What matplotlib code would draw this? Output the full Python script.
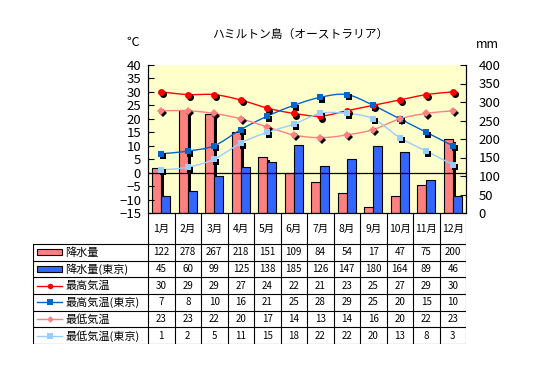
import numpy as np
import matplotlib
matplotlib.use("Agg")
import matplotlib.pyplot as plt
import matplotlib.transforms as mtransforms
from matplotlib.patches import Rectangle

plt.rcParams['font.family'] = ['Noto Sans CJK JP', 'DejaVu Sans']

months = ['1月', '2月', '3月', '4月', '5月', '6月', '7月', '8月', '9月', '10月', '11月', '12月']
precip = [122, 278, 267, 218, 151, 109, 84, 54, 17, 47, 75, 200]
precip_tokyo = [45, 60, 99, 125, 138, 185, 126, 147, 180, 164, 89, 46]
tmax = [30, 29, 29, 27, 24, 22, 21, 23, 25, 27, 29, 30]
tmax_tokyo = [7, 8, 10, 16, 21, 25, 28, 29, 25, 20, 15, 10]
tmin = [23, 23, 22, 20, 17, 14, 13, 14, 16, 20, 22, 23]
tmin_tokyo = [1, 2, 5, 11, 15, 18, 22, 22, 20, 13, 8, 3]

title = 'ハミルトン島（オーストラリア）'
labels = ['降水量', '降水量(東京)', '最高気温', '最高気温(東京)', '最低気温', '最低気温(東京)']

C_PINK_BAR = '#FF8080'
C_BLUE_BAR = '#3366FF'
C_RED = '#FF0000'
C_DBLUE = '#0066CC'
C_PINK = '#FF8080'
C_LBLUE = '#99CCFF'

W, H = 535, 366
fig = plt.figure(figsize=(W / 100, H / 100), dpi=100)
fig.patch.set_facecolor('white')

L, R, T, B = 148, 466, 65, 213
ax = fig.add_axes([L / W, 1 - B / H, (R - L) / W, (B - T) / H])
ax2 = ax.twinx()

ax.set_facecolor('#FFFFCC')
ax.set_xlim(0, 12)
ax.set_ylim(0, 400)
ax2.set_ylim(-15, 40)

x = np.arange(12) + 0.5
bw = 0.34

shadow = ax.transData + mtransforms.ScaledTranslation(3 / 100, -3 / 100, fig.dpi_scale_trans)
ax.bar(x - bw / 2, precip, bw, color='black', transform=shadow, zorder=1)
ax.bar(x - bw / 2, precip, bw, color=C_PINK_BAR, edgecolor='black', linewidth=0.8, zorder=2)
ax.bar(x + bw / 2, precip_tokyo, bw, color=C_BLUE_BAR, edgecolor='black', linewidth=0.8, zorder=3)

ax.yaxis.tick_right()
ax.set_yticks(np.arange(0, 401, 50))
ax.tick_params(axis='y', direction='in', length=4, pad=9, labelsize=9.5, width=0.8)
ax.set_xticks([])
ax.spines['top'].set_visible(False)
ax2.spines['top'].set_visible(False)
for a in (ax, ax2):
    for s in a.spines.values():
        s.set_linewidth(0.8)

ax2.yaxis.tick_left()
ax2.set_yticks(np.arange(-15, 41, 5))
ax2.tick_params(axis='y', direction='in', length=4, pad=5, labelsize=9.5, width=0.8)
ax2.axhline(0, color='black', lw=0.9, zorder=1)


def catmull(xs, ys, n=16):
    xs = np.asarray(xs, float)
    ys = np.asarray(ys, float)
    px = np.concatenate([[xs[0]], xs, [xs[-1]]])
    py = np.concatenate([[ys[0]], ys, [ys[-1]]])
    ox, oy = [], []
    t = np.linspace(0, 1, n, endpoint=False)
    for i in range(1, len(px) - 2):
        for arr, out in ((px, ox), (py, oy)):
            p0, p1, p2, p3 = arr[i - 1:i + 3]
            out.extend(0.5 * ((2 * p1) + (-p0 + p2) * t + (2 * p0 - 5 * p1 + 4 * p2 - p3) * t ** 2
                              + (-p0 + 3 * p1 - 3 * p2 + p3) * t ** 3))
    ox.append(xs[-1]); oy.append(ys[-1])
    return np.array(ox), np.array(oy)


mshadow = ax2.transData + mtransforms.ScaledTranslation(2 / 100, -2.5 / 100, fig.dpi_scale_trans)
series = [
    (tmax, C_RED, 'o', 5.0),
    (tmax_tokyo, C_DBLUE, 's', 5.0),
    (tmin, C_PINK, 'D', 4.2),
    (tmin_tokyo, C_LBLUE, 's', 5.0),
]
for vals, col, mk, ms in series:
    sx, sy = catmull(x, vals)
    ax2.plot(sx, sy, color=col, lw=1.0, zorder=4)
    ax2.plot(x, vals, ls='none', marker=mk, ms=ms, color='black', mew=0, transform=mshadow, zorder=5)
    ax2.plot(x, vals, ls='none', marker=mk, ms=ms, color=col, mec=col, mew=0, zorder=6)

fig.text(300 / W, 1 - 34 / H, title, ha='center', va='center', fontsize=8.5)
fig.text(133 / W, 1 - 42 / H, '℃', ha='center', va='center', fontsize=9)
fig.text(487 / W, 1 - 44 / H, 'mm', ha='center', va='center', fontsize=9)

# table
TL, TB = 33, 344
tax = fig.add_axes([TL / W, 1 - TB / H, (R - TL) / W, (TB - B) / H])
tax.set_xlim(TL, R)
tax.set_ylim(TB, B)
tax.axis('off')
lw = 0.8
cw = (R - L) / 12
row0 = 244
rh = (TB - row0) / 6
for k in range(13):
    xx = L + k * cw
    tax.plot([xx, xx], [B, TB], color='black', lw=lw, solid_capstyle='butt')
tax.plot([TL, TL], [row0, TB], color='black', lw=lw)
for i in range(7):
    yy = row0 + i * rh
    tax.plot([TL, R], [yy, yy], color='black', lw=lw)
for k, m in enumerate(months):
    tax.text(L + (k + 0.5) * cw, (B + row0) / 2, m, ha='center', va='center', fontsize=7.5)

rows = [precip, precip_tokyo, tmax, tmax_tokyo, tmin, tmin_tokyo]
for i, vals in enumerate(rows):
    yc = row0 + (i + 0.5) * rh
    for k, v in enumerate(vals):
        tax.text(L + (k + 0.5) * cw, yc, str(v), ha='center', va='center', fontsize=7)
    tax.text(65, yc, labels[i], ha='left', va='center', fontsize=8)

# legend samples
for i in range(2):
    yc = row0 + (i + 0.5) * rh
    col = [C_PINK_BAR, C_BLUE_BAR][i]
    tax.add_patch(Rectangle((37, yc - 3), 25, 6, facecolor=col, edgecolor='black', lw=0.8))
for i, (vals, col, mk, ms) in enumerate(series):
    yc = row0 + (i + 2.5) * rh
    tax.plot([37, 62], [yc, yc], color=col, lw=1.0)
    tax.plot([49.5], [yc], ls='none', marker=mk, ms=ms * 0.8, color=col, mew=0)

fig.savefig('out.png', dpi=100)
